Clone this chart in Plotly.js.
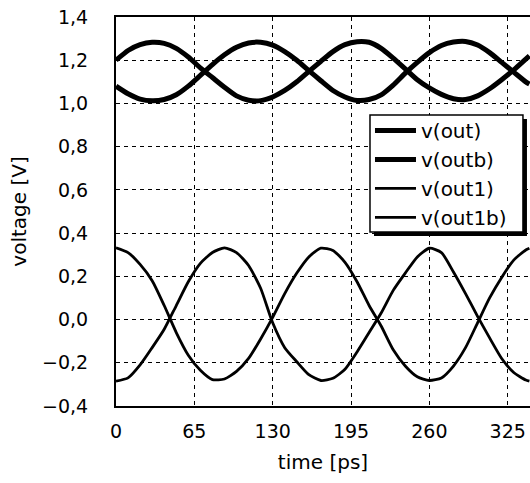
<!DOCTYPE html>
<html>
<head>
<meta charset="utf-8">
<script src="https://cdn.plot.ly/plotly-3.0.1.min.js"></script>
<style>
html,body{margin:0;padding:0;background:#fff;overflow:hidden;}
#chart{width:530px;height:483px;}
</style>
</head>
<body>
<div id="chart"></div>
<script>
// time axis [ps]
var time_ps = [0,10,20,30,40,50,60,70,80,90,100,110,120,130,140,150,160,170,180,190,200,210,220,230,240,250,260,270,280,290,300,310,320,330,340,343];

// v(out) [V]
var v_out = [1.200,1.245,1.272,1.283,1.278,1.255,1.215,1.165,1.120,1.075,1.035,1.015,1.013,1.030,1.060,1.100,1.148,1.195,1.240,1.272,1.286,1.283,1.255,1.210,1.160,1.110,1.072,1.042,1.022,1.018,1.035,1.068,1.110,1.155,1.205,1.220];

// v(outb) [V]
var v_outb = [1.080,1.045,1.020,1.012,1.018,1.040,1.080,1.130,1.180,1.225,1.260,1.280,1.283,1.270,1.240,1.200,1.152,1.105,1.060,1.030,1.014,1.018,1.040,1.085,1.140,1.190,1.235,1.268,1.284,1.287,1.270,1.235,1.190,1.145,1.100,1.090];

// v(out1) [V]
var v_out1 = [0.332,0.310,0.255,0.180,0.065,-0.060,-0.165,-0.235,-0.278,-0.275,-0.240,-0.180,-0.090,0.010,0.120,0.215,0.290,0.330,0.320,0.265,0.175,0.065,-0.030,-0.140,-0.215,-0.265,-0.282,-0.270,-0.215,-0.130,-0.015,0.100,0.195,0.275,0.322,0.330];

// v(out1b) [V]
var v_out1b = [-0.285,-0.270,-0.210,-0.130,-0.045,0.065,0.175,0.260,0.310,0.332,0.310,0.250,0.145,-0.015,-0.130,-0.195,-0.255,-0.282,-0.272,-0.230,-0.150,-0.060,0.030,0.135,0.215,0.290,0.330,0.310,0.220,0.120,0.015,-0.085,-0.180,-0.245,-0.280,-0.285];

var seriesNames = ['v(out)','v(outb)','v(out1)','v(out1b)'];
var xTicks = [0,65,130,195,260,325];
var yTicks = [-0.4,-0.2,0.0,0.2,0.4,0.6,0.8,1.0,1.2,1.4];

var FONT = 'DejaVu Sans, Liberation Sans, Arial, sans-serif';
var series = [v_out, v_outb, v_out1, v_out1b];
var widths = [5, 5, 2.8, 2.8];

var traces = series.map(function(s, i){
  return {
    x: time_ps, y: s, name: seriesNames[i], type: 'scatter', mode: 'lines',
    line: {color: '#000', width: widths[i], shape: 'spline', smoothing: 0.6}
  };
});

// legend box geometry (paper coords)
var lx0 = 0.6135, lx1 = 0.983, ly0 = 0.447, ly1 = 0.748;
var dx = 4/414, dy = 4/389;

var layout = {
  width: 530, height: 483,
  margin: {l: 116, r: 0, t: 17, b: 77},
  paper_bgcolor: '#fff', plot_bgcolor: '#fff',
  separators: ', ',
  font: {family: FONT, color: '#000', size: 19},
  showlegend: true,
  legend: {
    x: lx0, y: ly1 + 0.0105, xanchor: 'left', yanchor: 'top',
    bgcolor: 'rgba(0,0,0,0)', borderwidth: 0, itemwidth: 41,
    font: {family: FONT, size: 20, color: '#000'},
    tracegroupgap: 0
  },
  xaxis: {
    range: [0, 343.5], tickvals: xTicks, ticktext: xTicks.map(String),
    showline: true, linecolor: '#000', linewidth: 2, mirror: true,
    showgrid: true, gridcolor: '#000', gridwidth: 1, griddash: '4px,4px',
    zeroline: false, ticks: '', ticklabelstandoff: 7,
    tickfont: {family: FONT, size: 19, color: '#000'},
    title: {text: 'time [ps]', font: {family: FONT, size: 20, color: '#000'}, standoff: 14}
  },
  yaxis: {
    range: [-0.4, 1.4], tickvals: yTicks, tickformat: '.1f',
    showline: true, linecolor: '#000', linewidth: 2, mirror: false,
    showgrid: true, gridcolor: '#000', gridwidth: 1, griddash: '4px,4px',
    zeroline: false, ticks: '', ticklabelstandoff: 22,
    tickfont: {family: FONT, size: 19, color: '#000'},
    title: {text: 'voltage [V]', font: {family: FONT, size: 20, color: '#000'}, standoff: 10}
  },
  shapes: [
    {type: 'rect', xref: 'paper', yref: 'paper', layer: 'above',
     x0: lx0 + dx, x1: lx1 + dx, y0: ly0 - dy, y1: ly1 - dy,
     fillcolor: '#000', line: {width: 0}},
    {type: 'rect', xref: 'paper', yref: 'paper', layer: 'above',
     x0: lx0, x1: lx1, y0: ly0, y1: ly1,
     fillcolor: '#fff', line: {color: '#000', width: 1.5}}
  ]
};

Plotly.newPlot('chart', traces, layout, {displayModeBar: false, staticPlot: true});
</script>
</body>
</html>
